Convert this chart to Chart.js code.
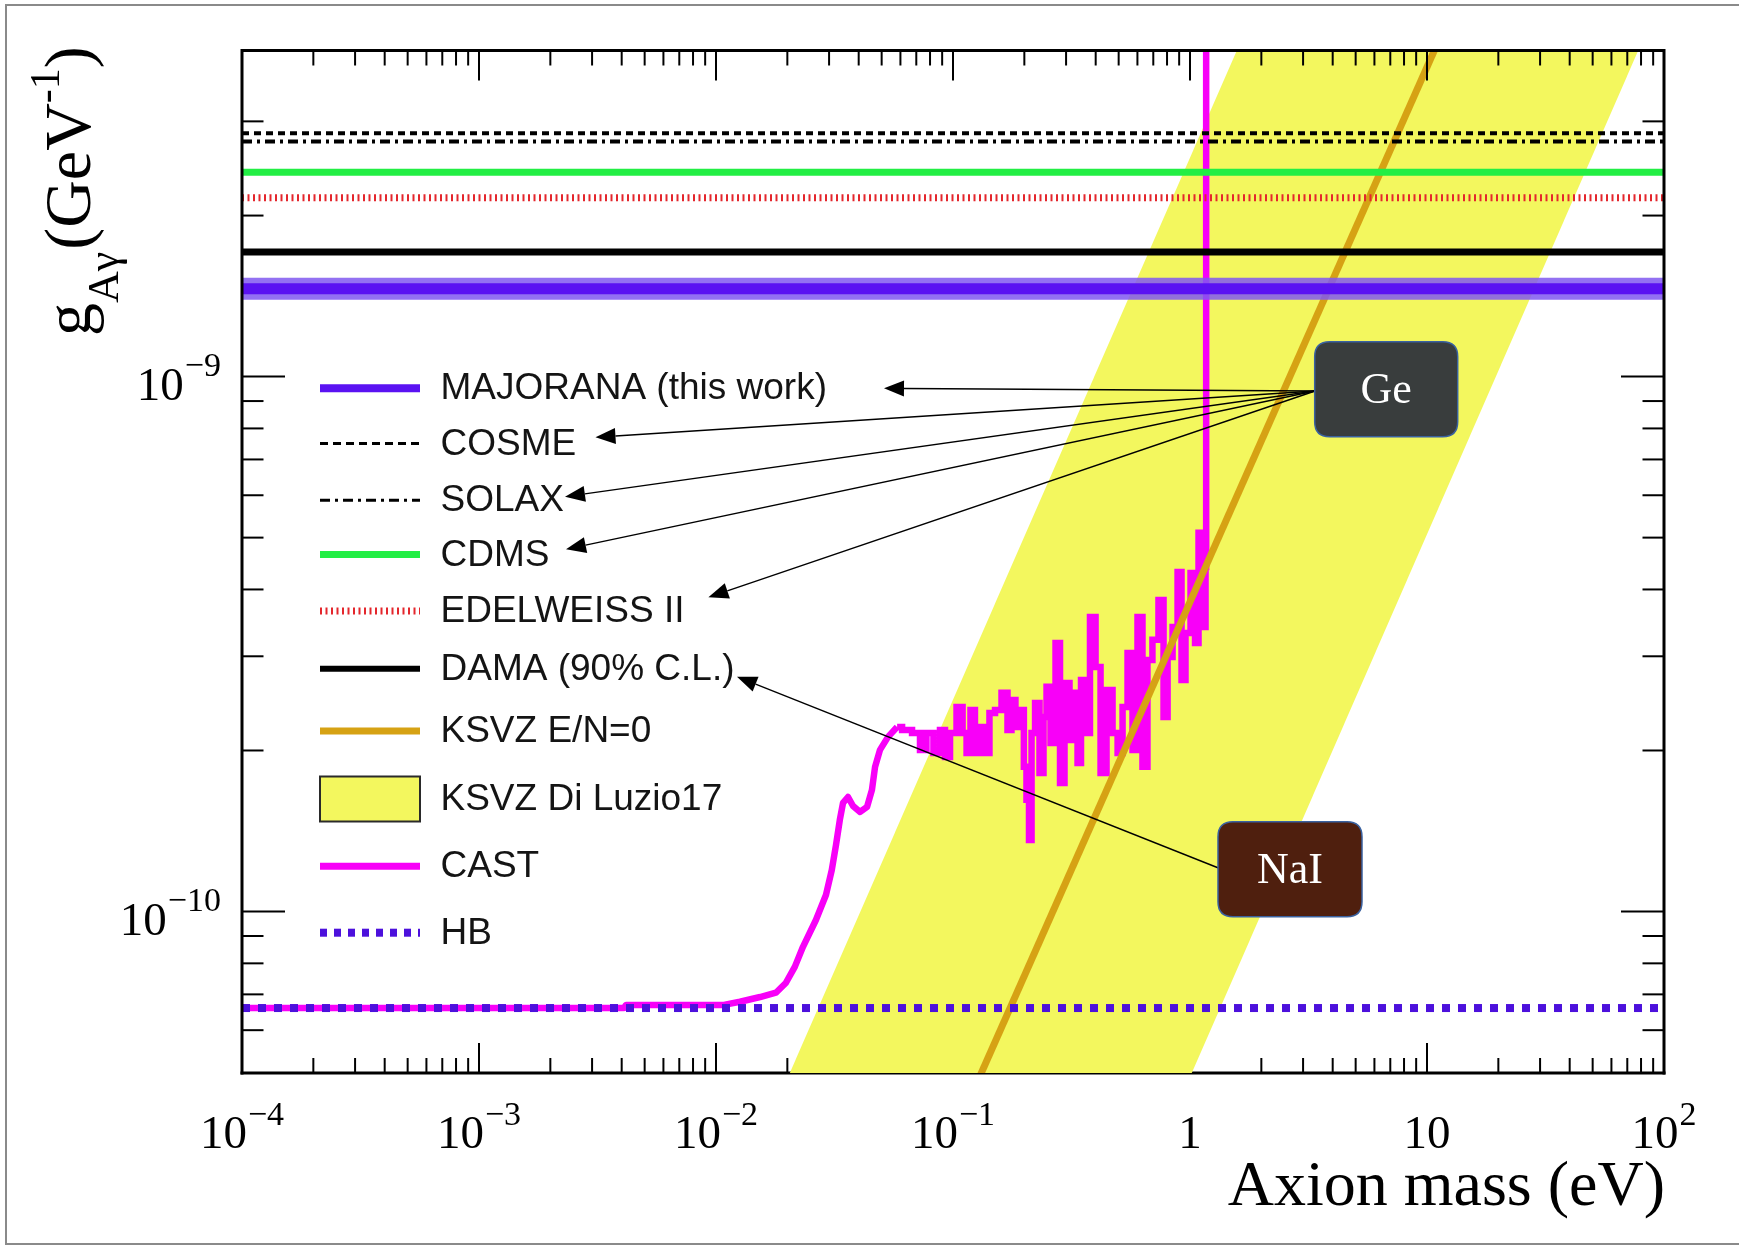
<!DOCTYPE html>
<html><head><meta charset="utf-8">
<script src="https://cdn.jsdelivr.net/npm/chart.js@4.4.1/dist/chart.umd.min.js"></script>
<style>
html,body{margin:0;padding:0;background:#fff;}
#wrap{position:relative;width:1739px;height:1248px;}
canvas{display:block;}
</style></head><body>
<div id="wrap"><canvas id="c" width="1739" height="1248"></canvas></div>
<script>
// ================= DATA =================
const massRange = [1e-4, 1e2];                 // axion mass (eV)
const gRange = [4.99e-11, 4.07e-9];            // g_Agamma (GeV^-1)
const xTickValues = [1e-4, 1e-3, 1e-2, 1e-1, 1, 10, 100];
const xTickLabels = ['10^\u22124', '10^\u22123', '10^\u22122', '10^\u22121', '1', '10', '10^2'];
const yTickValues = [1e-10, 1e-9];
const yTickLabels = ['10^\u221210', '10^\u22129'];
const yMinorTickValues = [6e-11, 7e-11, 8e-11, 9e-11, 2e-10, 3e-10, 4e-10, 5e-10, 6e-10, 7e-10, 8e-10, 9e-10, 2e-9, 3e-9];

// horizontal limits (GeV^-1)
const majoranaG = 1.46e-9;
const cosmeG = 2.85e-9;
const solaxG = 2.75e-9;
const cdmsG = 2.41e-9;
const edelweissG = 2.16e-9;
const damaG = 1.71e-9;
const hbG = 6.6e-11;

// KSVZ E/N=0 line (two end points, eV / GeV^-1)
const ksvzMass = [0.1, 20];
const ksvzG = [3.79e-11, 7.58e-9];

// KSVZ Di Luzio17 band edges (eV / GeV^-1)
const bandUpperMass = [0.015, 2.0];
const bandUpperG = [3.64e-11, 5.18e-9];
const bandLowerMass = [0.8, 110];
const bandLowerG = [3.91e-11, 5.78e-9];

// CAST limit: smooth part (mass eV, g in units of 1e-10 GeV^-1)
const castSmoothMass = [1e-4, 0.00409, 0.00417, 0.0108, 0.01262, 0.01535, 0.0179, 0.0197, 0.0215, 0.02328, 0.0264, 0.0291, 0.0308, 0.0321, 0.0333, 0.03436, 0.03606, 0.03786, 0.04055, 0.04339, 0.0455, 0.0469, 0.0492, 0.0532, 0.0581];
const castSmoothG = [0.66, 0.66, 0.669, 0.669, 0.678, 0.692, 0.705, 0.735, 0.788, 0.859, 0.964, 1.074, 1.196, 1.333, 1.483, 1.596, 1.637, 1.575, 1.535, 1.569, 1.688, 1.864, 2.005, 2.121, 2.213];
// CAST limit: noisy part
const castNoisyMass = [0.0581, 0.0640, 0.0705, 0.0747, 0.0799, 0.0856, 0.0907, 0.0944, 0.100, 0.1071, 0.1125, 0.1157, 0.1214, 0.1262, 0.1325, 0.139, 0.1461, 0.1549, 0.1657, 0.174, 0.179, 0.188, 0.197, 0.2012, 0.2072, 0.2113, 0.2178, 0.2262, 0.2374, 0.2445, 0.2518, 0.2643, 0.2774, 0.2884, 0.3027, 0.3178, 0.3273, 0.3436, 0.3501, 0.3673, 0.3899, 0.4093, 0.4297, 0.4596, 0.4831, 0.507, 0.532, 0.5585, 0.5861, 0.6152, 0.6457, 0.6776, 0.7112, 0.762, 0.785, 0.824, 0.865, 0.908, 0.934, 0.981, 1.030, 1.071, 1.102, 1.156, 1.17, 1.17];
const castNoisyG = [2.213, 2.185, 2.157, 2.005, 2.157, 1.979, 2.185, 1.945, 2.157, 2.412, 2.157, 1.979, 2.381, 1.979, 2.213, 1.979, 2.350, 2.381, 2.563, 2.185, 2.486, 2.213, 2.381, 1.864, 1.617, 1.361, 2.157, 2.454, 1.815, 2.311, 2.630, 2.066, 3.177, 1.739, 2.675, 2.093, 2.563, 1.896, 2.710, 2.157, 3.554, 2.866, 1.815, 2.596, 2.157, 1.979, 2.412, 3.043, 2.005, 3.554, 1.864, 2.953, 3.220, 3.823, 2.311, 2.991, 3.404, 4.313, 2.710, 3.317, 4.294, 3.177, 5.104, 3.404, 4.406, 45];

const legendLabels = ['MAJORANA (this work)', 'COSME', 'SOLAX', 'CDMS', 'EDELWEISS II', 'DAMA (90% C.L.)', 'KSVZ E/N=0', 'KSVZ Di Luzio17', 'CAST', 'HB'];
const xTitle = 'Axion mass (eV)';
const annotationLabels = ['Ge', 'NaI'];

// ================= STYLE =================
const fontSerif = '"Liberation Serif", "Times New Roman", serif';
const fontSans = '"Liberation Sans", Arial, Helvetica, sans-serif';
const S = {
  yellow: '#f3f75e',
  majEdge: 'rgba(128,88,240,0.85)', majCore: '#5a12f2',
  cosme: '#000', solax: '#000', cdms: '#22ee44', edel: '#e4262c', dama: '#000',
  ksvz: '#d6a214', cast: '#f800f8', hb: '#4c10dc'
};
const legendStyles = [
  {color: S.majCore, width: 8},
  {color: S.cosme, width: 3, dash: [8, 5]},
  {color: S.solax, width: 3, dash: [10, 5, 3, 5]},
  {color: S.cdms, width: 7},
  {color: S.edel, width: 7, dash: [2, 3.5]},
  {color: S.dama, width: 6},
  {color: S.ksvz, width: 7},
  {box: true, color: S.yellow},
  {color: S.cast, width: 7},
  {color: S.hb, width: 8, dash: [7, 7]}
];

// ================= BUILD =================
const pts = (xs, ys, k = 1) => xs.map((x, i) => ({x: x, y: ys[i] * k}));
const hline = g => massRange.map(m => ({x: m, y: g}));
const bandPoly = pts(bandUpperMass, bandUpperG).concat(pts(bandLowerMass, bandLowerG).reverse());

const base = {pointRadius: 0, fill: false, clip: 0, tension: 0, borderJoinStyle: 'round'};
const datasets = [
  Object.assign({}, base, {label: 'KSVZ Di Luzio17', data: bandPoly, borderWidth: 0, backgroundColor: S.yellow, fill: 'shape', order: 20}),
  Object.assign({}, base, {label: 'CAST', data: pts(castSmoothMass, castSmoothG, 1e-10), borderColor: S.cast, borderWidth: 6.5, order: 19}),
  Object.assign({}, base, {label: 'CAST noisy', data: pts(castNoisyMass, castNoisyG, 1e-10), borderColor: S.cast, borderWidth: 6.5, stepped: 'middle', borderJoinStyle: 'miter', order: 18}),
  Object.assign({}, base, {label: 'KSVZ E/N=0', data: pts(ksvzMass, ksvzG), borderColor: S.ksvz, borderWidth: 7, order: 17}),
  Object.assign({}, base, {label: 'HB', data: hline(hbG), borderColor: S.hb, borderWidth: 8, borderDash: [8, 8], order: 16}),
  Object.assign({}, base, {label: 'MAJORANA band', data: hline(majoranaG), borderColor: S.majEdge, borderWidth: 22, order: 15}),
  Object.assign({}, base, {label: 'MAJORANA (this work)', data: hline(majoranaG), borderColor: S.majCore, borderWidth: 11, order: 14}),
  Object.assign({}, base, {label: 'DAMA (90% C.L.)', data: hline(damaG), borderColor: S.dama, borderWidth: 7, order: 13}),
  Object.assign({}, base, {label: 'EDELWEISS II', data: hline(edelweissG), borderColor: S.edel, borderWidth: 7, borderDash: [2, 3.5], order: 12}),
  Object.assign({}, base, {label: 'CDMS', data: hline(cdmsG), borderColor: S.cdms, borderWidth: 7, order: 11}),
  Object.assign({}, base, {label: 'SOLAX', data: hline(solaxG), borderColor: S.solax, borderWidth: 4, borderDash: [10, 5, 3, 5], order: 10}),
  Object.assign({}, base, {label: 'COSME', data: hline(cosmeG), borderColor: S.cosme, borderWidth: 4, borderDash: [7, 5], order: 9})
];

// ================= DRAWING HELPERS =================
function powText(ctx, label, x, y, align, size) {
  const parts = label.split('^');
  const ss = Math.round(size * 0.72);
  ctx.font = size + 'px ' + fontSerif;
  const wb = ctx.measureText(parts[0]).width;
  let we = 0;
  if (parts[1]) { ctx.font = ss + 'px ' + fontSerif; we = ctx.measureText(parts[1]).width + 1; }
  const W = wb + we;
  const sx = align === 'center' ? x - W / 2 : (align === 'right' ? x - W : x);
  ctx.textAlign = 'left'; ctx.textBaseline = 'alphabetic';
  ctx.font = size + 'px ' + fontSerif; ctx.fillText(parts[0], sx, y);
  if (parts[1]) { ctx.font = ss + 'px ' + fontSerif; ctx.fillText(parts[1], sx + wb + 1, y - size * 0.5); }
}
function minorXTicks() {
  const v = [];
  for (let n = -4; n <= 1; n++) for (let k = 2; k <= 9; k++) v.push(k * Math.pow(10, n));
  return v;
}
function roundRect(ctx, x, y, w, h, r) {
  ctx.beginPath();
  ctx.moveTo(x + r, y); ctx.lineTo(x + w - r, y); ctx.quadraticCurveTo(x + w, y, x + w, y + r);
  ctx.lineTo(x + w, y + h - r); ctx.quadraticCurveTo(x + w, y + h, x + w - r, y + h);
  ctx.lineTo(x + r, y + h); ctx.quadraticCurveTo(x, y + h, x, y + h - r);
  ctx.lineTo(x, y + r); ctx.quadraticCurveTo(x, y, x + r, y); ctx.closePath();
}
function arrow(ctx, x0, y0, x1, y1) {
  ctx.save();
  ctx.strokeStyle = '#000'; ctx.fillStyle = '#000'; ctx.lineWidth = 1.4; ctx.setLineDash([]);
  const a = Math.atan2(y1 - y0, x1 - x0), L = 20, H = 8;
  const bx = x1 - L * Math.cos(a), by = y1 - L * Math.sin(a);
  ctx.beginPath(); ctx.moveTo(x0, y0); ctx.lineTo(bx, by); ctx.stroke();
  ctx.beginPath(); ctx.moveTo(x1, y1);
  ctx.lineTo(bx + H * Math.sin(a), by - H * Math.cos(a));
  ctx.lineTo(bx - H * Math.sin(a), by + H * Math.cos(a));
  ctx.closePath(); ctx.fill();
  ctx.restore();
}

// layout of annotations, relative to chart area (px)
const LAYOUT = {
  legend: {x0: 78, x1: 178, tx: 198.5, rows: [337.7, 393.1, 449.7, 504, 560.6, 618.3, 680.4, 748, 815.7, 882.2], font: 37},
  ge: {x: 1072.7, y: 291.2, w: 143, h: 95, fill: '#393d3d', from: [1073, 340.5],
       tips: [[642, 337.8], [353.5, 386.8], [323, 446.2], [324, 498.7], [466.4, 546.8]]},
  nai: {x: 976, y: 771.2, w: 144, h: 95, fill: '#4f1f0e', from: [976.5, 817.5], tips: [[495, 626.2]]}
};

const rootStyle = {
  id: 'rootStyle',
  beforeDraw(chart) {
    const ctx = chart.ctx;
    ctx.save(); ctx.fillStyle = '#fff'; ctx.fillRect(0, 0, chart.width, chart.height); ctx.restore();
  },
  beforeDatasetsDraw(chart) {
    const ctx = chart.ctx, a = chart.chartArea, xs = chart.scales.x;
    ctx.save();
    ctx.strokeStyle = '#000'; ctx.lineWidth = 3;
    ctx.beginPath(); ctx.moveTo(a.left - 1.5, a.bottom); ctx.lineTo(a.right + 1.5, a.bottom); ctx.stroke();
    ctx.lineWidth = 2;
    xTickValues.forEach(v => { const p = xs.getPixelForValue(v); ctx.beginPath(); ctx.moveTo(p, a.bottom); ctx.lineTo(p, a.bottom - 30); ctx.stroke(); });
    minorXTicks().forEach(v => { const p = xs.getPixelForValue(v); ctx.beginPath(); ctx.moveTo(p, a.bottom); ctx.lineTo(p, a.bottom - 15); ctx.stroke(); });
    ctx.restore();
  },
  afterDatasetsDraw(chart) {
    const ctx = chart.ctx, a = chart.chartArea, xs = chart.scales.x, ys = chart.scales.y;
    ctx.save();
    // frame borders (top, left, right)
    ctx.strokeStyle = '#000'; ctx.lineWidth = 3; ctx.setLineDash([]);
    ctx.beginPath();
    ctx.moveTo(a.left, a.bottom + 1.5); ctx.lineTo(a.left, a.top); ctx.lineTo(a.right, a.top); ctx.lineTo(a.right, a.bottom + 1.5);
    ctx.stroke();
    // ticks
    ctx.lineWidth = 2;
    const seg = (x0, y0, x1, y1) => { ctx.beginPath(); ctx.moveTo(x0, y0); ctx.lineTo(x1, y1); ctx.stroke(); };
    xTickValues.forEach(v => { const p = xs.getPixelForValue(v); seg(p, a.top, p, a.top + 30); });
    minorXTicks().forEach(v => { const p = xs.getPixelForValue(v); seg(p, a.top, p, a.top + 15); });
    yTickValues.forEach(v => { const p = ys.getPixelForValue(v); seg(a.left, p, a.left + 43, p); seg(a.right, p, a.right - 43, p); });
    yMinorTickValues.forEach(v => { const p = ys.getPixelForValue(v); seg(a.left, p, a.left + 21.5, p); seg(a.right, p, a.right - 21.5, p); });
    // tick labels
    ctx.fillStyle = '#000';
    xTickValues.forEach((v, i) => powText(ctx, xTickLabels[i], xs.getPixelForValue(v), a.bottom + 75, 'center', 47));
    yTickValues.forEach((v, i) => powText(ctx, yTickLabels[i], a.left - 21, ys.getPixelForValue(v) + 23, 'right', 47));
    // x title
    ctx.font = '64px ' + fontSerif; ctx.textAlign = 'right'; ctx.textBaseline = 'alphabetic';
    ctx.fillText(xTitle, a.right + 1, a.bottom + 132);
    // y title (rotated)
    ctx.save();
    ctx.translate(90, 336); ctx.rotate(-Math.PI / 2);
    ctx.textAlign = 'left';
    let cx = 0;
    const put = (t, size, dy) => { ctx.font = size + 'px ' + fontSerif; ctx.fillText(t, cx, dy); cx += ctx.measureText(t).width; };
    put('g', 66, 0); put('A\u03b3', 44, 28); cx += 2; put('(GeV', 66, 0); put('-1', 42, -31); put(')', 66, 0);
    ctx.restore();
    // legend
    const Lg = LAYOUT.legend;
    legendLabels.forEach((lab, i) => {
      const st = legendStyles[i], y = a.top + Lg.rows[i];
      ctx.save();
      if (st.box) {
        ctx.fillStyle = st.color; ctx.fillRect(a.left + Lg.x0, y - 22, Lg.x1 - Lg.x0, 45);
        ctx.strokeStyle = '#2a2a2a'; ctx.lineWidth = 2; ctx.strokeRect(a.left + Lg.x0, y - 22, Lg.x1 - Lg.x0, 45);
      } else {
        ctx.strokeStyle = st.color; ctx.lineWidth = st.width; ctx.setLineDash(st.dash || []);
        ctx.beginPath(); ctx.moveTo(a.left + Lg.x0, y); ctx.lineTo(a.left + Lg.x1, y); ctx.stroke();
      }
      ctx.restore();
      ctx.fillStyle = '#141414'; ctx.font = Lg.font + 'px ' + fontSans; ctx.textAlign = 'left'; ctx.textBaseline = 'middle';
      ctx.fillText(lab, a.left + Lg.tx, y + 1);
    });
    // annotation arrows and boxes
    [LAYOUT.ge, LAYOUT.nai].forEach(b => {
      b.tips.forEach(t => arrow(ctx, a.left + b.from[0], a.top + b.from[1], a.left + t[0], a.top + t[1]));
    });
    [LAYOUT.ge, LAYOUT.nai].forEach((b, bi) => {
      roundRect(ctx, a.left + b.x, a.top + b.y, b.w, b.h, 15);
      ctx.fillStyle = b.fill; ctx.fill();
      ctx.strokeStyle = '#3a62a0'; ctx.lineWidth = 1.5; ctx.stroke();
      ctx.fillStyle = '#fff'; ctx.font = '44px ' + fontSerif; ctx.textAlign = 'center'; ctx.textBaseline = 'middle';
      ctx.fillText(annotationLabels[bi], a.left + b.x + b.w / 2, a.top + b.y + b.h / 2 + 2);
    });
    // outer picture frame
    ctx.strokeStyle = '#8a8a8a'; ctx.lineWidth = 2;
    ctx.strokeRect(6, 5, chart.width + 10, chart.height - 9);
    ctx.restore();
  }
};

new Chart(document.getElementById('c'), {
  type: 'line',
  data: {datasets: datasets},
  options: {
    responsive: false, animation: false, devicePixelRatio: 1,
    parsing: {xAxisKey: 'x', yAxisKey: 'y'},
    layout: {padding: {left: 242, top: 50.5, right: 75, bottom: 175}},
    scales: {
      x: {type: 'logarithmic', min: massRange[0], max: massRange[1], bounds: 'data', display: false},
      y: {type: 'logarithmic', min: gRange[0], max: gRange[1], bounds: 'data', display: false}
    },
    plugins: {legend: {display: false}, tooltip: {enabled: false}}
  },
  plugins: [rootStyle]
});
</script>
</body></html>
